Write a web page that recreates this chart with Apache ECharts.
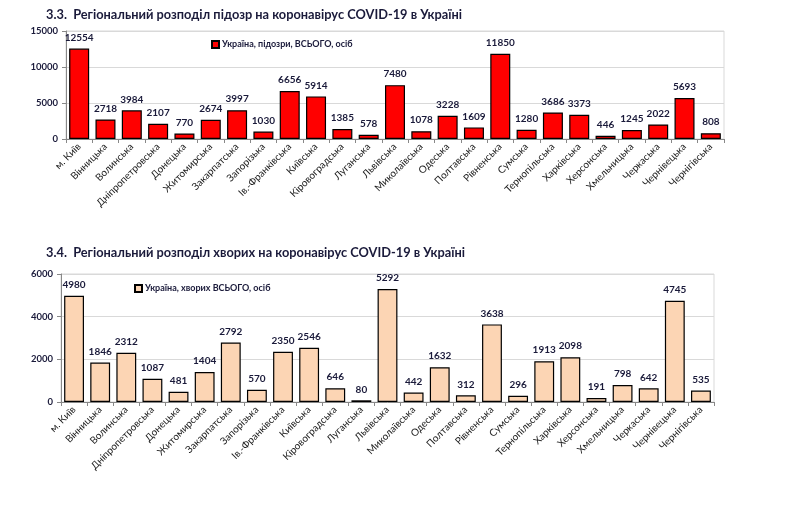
<!DOCTYPE html>
<html><head><meta charset="utf-8">
<script src="https://cdn.jsdelivr.net/npm/echarts@6/dist/echarts.min.js"></script>
<style>html,body{margin:0;padding:0;background:#fff}#c{width:802px;height:511px}</style>
</head><body><div id="c"></div>
<script>
var regions = ['м. Київ','Вінницька','Волинська','Дніпропетровська','Донецька','Житомирська','Закарпатська','Запорізька','Ів.-Франківська','Київська','Кіровоградська','Луганська','Львівська','Миколаївська','Одеська','Полтавська','Рівненська','Сумська','Тернопільська','Харківська','Херсонська','Хмельницька','Черкаська','Чернівецька','Чернігівська'];
var suspected = [12554,2718,3984,2107,770,2674,3997,1030,6656,5914,1385,578,7480,1078,3228,1609,11850,1280,3686,3373,446,1245,2022,5693,808];
var sick = [4980,1846,2312,1087,481,1404,2792,570,2350,2546,646,80,5292,442,1632,312,3638,296,1913,2098,191,798,642,4745,535];
var title1 = '3.3.  Регіональний розподіл підозр на коронавірус COVID-19 в Україні';
var title2 = '3.4.  Регіональний розподіл хворих на коронавірус COVID-19 в Україні';
var name1 = 'Україна, підозри, ВСЬОГО, осіб';
var name2 = 'Україна, хворих ВСЬОГО, осіб';

var FONT = 'Lato, "Open Sans", sans-serif';
var txt = '#1a1a3a';
function xAxis(gi){
  return {type:'category', gridIndex:gi, data:regions,
    axisLine:{lineStyle:{color:'#888',width:1}},
    axisTick:{show:true,length:4,lineStyle:{color:'#888'}},
    axisLabel:{rotate:45,fontSize:10,color:'#222',fontFamily:FONT,margin:6,interval:0}};
}
function yAxis(gi,max,step){
  return {type:'value', gridIndex:gi, min:0, max:max, interval:step,
    axisLine:{show:true,lineStyle:{color:'#888'}},
    axisTick:{show:true,length:4,lineStyle:{color:'#888'}},
    splitLine:{lineStyle:{color:'#d9d9d9'}},
    axisLabel:{fontSize:9.5,fontWeight:'bold',color:txt,fontFamily:FONT,margin:8,
      formatter:function(v){return String(v);}}};
}
var lbl = {show:true,position:'top',distance:6,fontSize:10,fontWeight:'bold',color:txt,fontFamily:FONT};
var chart = echarts.init(document.getElementById('c'),null,{renderer:'canvas'});
chart.setOption({
  animation:false,
  title:[
    {text:title1,left:41,top:3,textStyle:{fontSize:12.8,fontWeight:'bold',color:txt,fontFamily:FONT}},
    {text:title2,left:41,top:241,textStyle:{fontSize:12.8,fontWeight:'bold',color:txt,fontFamily:FONT}}
  ],
  legend:[
    {data:[name1],left:206,top:35,itemWidth:7,itemHeight:7,itemGap:4,icon:'rect',
     textStyle:{fontSize:9,fontWeight:'bold',color:txt,fontFamily:FONT,padding:[0,0,0,-2]}},
    {data:[name2],left:129,top:279,itemWidth:7,itemHeight:7,icon:'rect',
     textStyle:{fontSize:9,fontWeight:'bold',color:txt,fontFamily:FONT,padding:[0,0,0,-2]}}
  ],
  grid:[
    {left:66,top:31,width:658,height:108,show:true,borderColor:'#d9d9d9',borderWidth:1},
    {left:61,top:274,width:653,height:128,show:true,borderColor:'#d9d9d9',borderWidth:1}
  ],
  xAxis:[xAxis(0),xAxis(1)],
  yAxis:[yAxis(0,15000,5000),yAxis(1,6000,2000)],
  series:[
    {name:name1,type:'bar',xAxisIndex:0,yAxisIndex:0,data:suspected,barCategoryGap:'24%',
     itemStyle:{color:'#ff0000',borderColor:'#000',borderWidth:1.2},label:lbl},
    {name:name2,type:'bar',xAxisIndex:1,yAxisIndex:1,data:sick,barCategoryGap:'24%',
     itemStyle:{color:'#fcd5b4',borderColor:'#000',borderWidth:1.2},label:lbl}
  ]
});
</script></body></html>
